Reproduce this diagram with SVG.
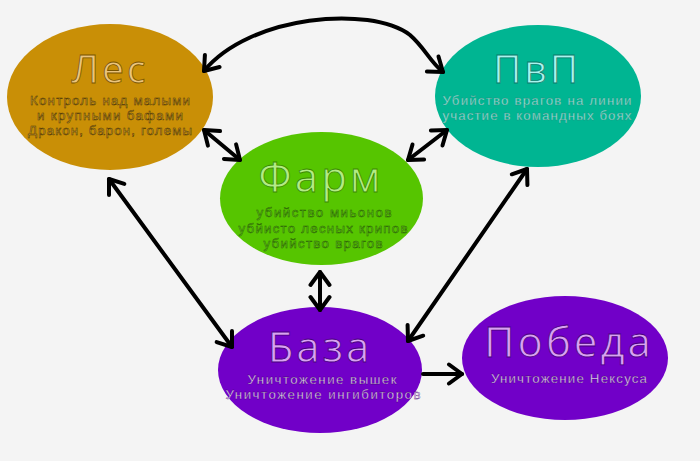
<svg xmlns="http://www.w3.org/2000/svg" width="700" height="461" viewBox="0 0 700 461">
<defs>
<marker id="ah" markerUnits="userSpaceOnUse" markerWidth="24" markerHeight="24" viewBox="0 0 24 24" refX="18" refY="12" orient="auto-start-reverse">
<path d="M5,2.5 L18,12 L5,21.5" fill="none" stroke="#000" stroke-width="4" stroke-linecap="round" stroke-linejoin="round"/>
</marker>
</defs>
<style>
.t{font-family:"Open Sans","Noto Sans","DejaVu Sans",sans-serif;text-anchor:middle}
.ti{font-size:39px;letter-spacing:3px;stroke-width:0.8px}
.su{font-family:"Liberation Sans","Arial",sans-serif;font-size:13.3px;stroke-width:0.5px}
.c{fill:none;stroke:#000;stroke-width:4;stroke-linecap:round;marker-start:url(#ah);marker-end:url(#ah)}
.c1{fill:none;stroke:#000;stroke-width:4;stroke-linecap:round;marker-end:url(#ah)}
</style>
<rect width="700" height="461" fill="#f4f4f4"/>
<g id="les">
<ellipse cx="110" cy="97" rx="103" ry="73" fill="#c98f06"/>
<text class="t ti" x="110" y="83" fill="#ebc47c" stroke="#7a5500">Лес</text>
<text class="t su" x="110" y="104.5" fill="#d9a530" stroke="#4a3300" textLength="160" lengthAdjust="spacing">Контроль над малыми</text>
<text class="t su" x="110" y="119.5" fill="#d9a530" stroke="#4a3300" textLength="146" lengthAdjust="spacing">и крупными бафами</text>
<text class="t su" x="110" y="134.5" fill="#d9a530" stroke="#4a3300" textLength="164" lengthAdjust="spacing">Дракон, барон, големы</text>
</g>
<g id="pvp">
<ellipse cx="538" cy="96" rx="103" ry="71" fill="#00b592"/>
<text class="t ti" x="537" y="83" fill="#a8f4ee" stroke="#0b7a6a">ПвП</text>
<text class="t su" x="537" y="105" fill="#a0e6de" stroke="#2c8a7a" style="stroke-width:0.3px" textLength="189" lengthAdjust="spacing">Убийство врагов на линии</text>
<text class="t su" x="537" y="120" fill="#a0e6de" stroke="#2c8a7a" style="stroke-width:0.3px" textLength="189" lengthAdjust="spacing">участие в командных боях</text>
</g>
<g id="farm">
<ellipse cx="321.5" cy="198.5" rx="101.5" ry="66.5" fill="#56c500"/>
<text class="t ti" x="321" y="192" fill="#b2ec84" stroke="#3a8a00" style="font-size:42px">Фарм</text>
<text class="t su" x="324" y="217" fill="#68cf20" stroke="#275f00" textLength="135" lengthAdjust="spacing">убийство миьонов</text>
<text class="t su" x="323" y="232.5" fill="#68cf20" stroke="#275f00" textLength="169" lengthAdjust="spacing">убйисто лесных крипов</text>
<text class="t su" x="323" y="248" fill="#68cf20" stroke="#275f00" textLength="119" lengthAdjust="spacing">убийство врагов</text>
</g>
<g id="baza">
<ellipse cx="320" cy="370" rx="102" ry="63" fill="#7100c8"/>
<text class="t ti" x="320" y="362" fill="#d9a2f2" stroke="#4a0080" style="font-size:42px">База</text>
<text class="t su" x="322" y="384" fill="#ecd8fa" stroke="#3a0066" style="stroke-width:0.3px" textLength="149" lengthAdjust="spacing">Уничтожение вышек</text>
<text class="t su" x="323" y="399" fill="#ecd8fa" stroke="#3a0066" style="stroke-width:0.3px" textLength="195" lengthAdjust="spacing">Уничтожение ингибиторов</text>
</g>
<g id="pobeda">
<ellipse cx="565" cy="358" rx="103" ry="62" fill="#7100c8"/>
<text class="t ti" x="569" y="357" fill="#d9a2f2" stroke="#4a0080" style="font-size:42px">Победа</text>
<text class="t su" x="569" y="383" fill="#ecd8fa" stroke="#3a0066" style="stroke-width:0.3px" textLength="156" lengthAdjust="spacing">Уничтожение Нексуса</text>
</g>
<g id="connectors">
<path class="c" d="M204,71 C250,15 370,5 410,35 C425,48 430,62 443,72"/>
<path class="c" d="M204,130 L240,160"/>
<path class="c" d="M447,130 L408,160"/>
<path class="c" d="M109,179 L232,347"/>
<path class="c" d="M527,169 L408,341"/>
<path class="c" d="M320,272 L320,310"/>
<path class="c1" d="M423,374 L462,374"/>
</g>
</svg>
